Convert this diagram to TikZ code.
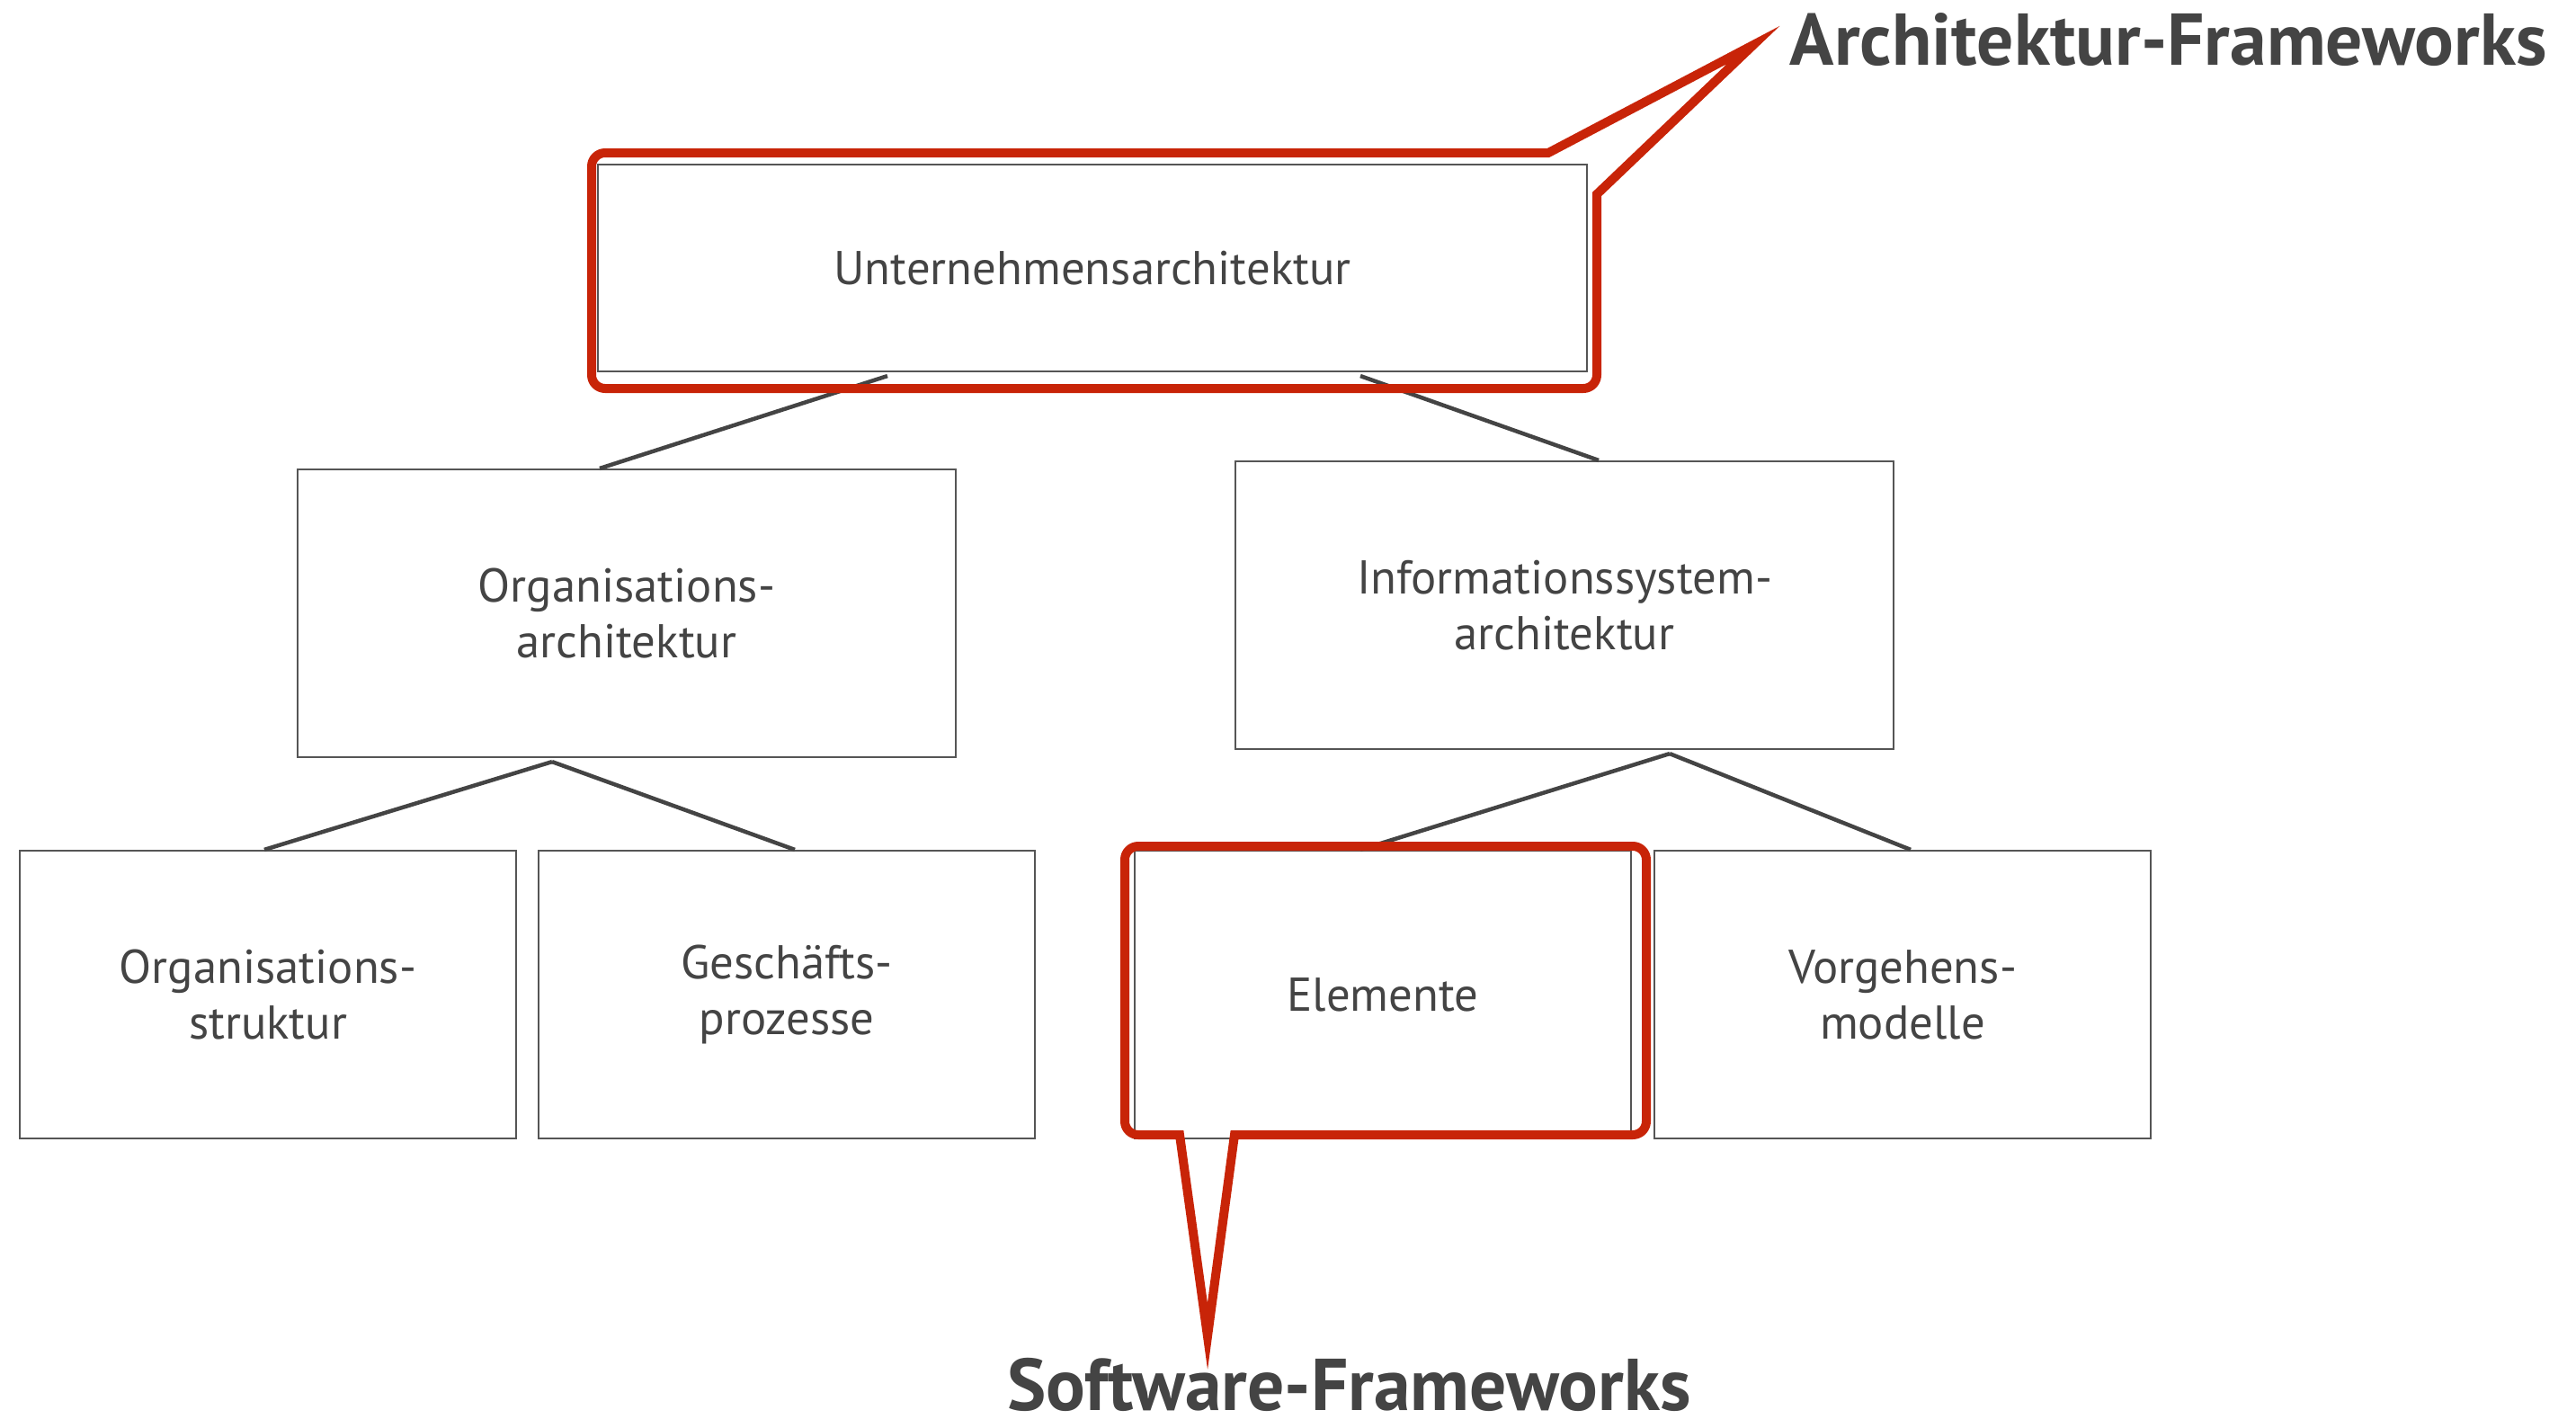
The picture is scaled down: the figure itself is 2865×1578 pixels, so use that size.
\documentclass[tikz,border=0pt]{standalone}
\usepackage{fontspec}
\setmainfont{PT Sans}
\usetikzlibrary{calc}
\definecolor{txtgray}{RGB}{68,68,68}
\definecolor{boxgray}{RGB}{85,85,85}
\definecolor{callred}{RGB}{200,36,8}
\tikzset{
  box/.style={draw=boxgray,line width=0.02cm,text=txtgray,align=center,inner sep=0pt,font=\fontsize{15}{17.6}\selectfont},
  conn/.style={draw=txtgray,line width=0.045cm},
  callout/.style={draw=callred,line width=0.1cm},
  flabel/.style={text=txtgray,font=\fontsize{23.2}{27}\selectfont\bfseries,inner sep=0pt}
}
\begin{document}
\begin{tikzpicture}[x=0.01cm,y=-0.01cm]
\useasboundingbox (0,0) rectangle (2865,1578);
\node[box,minimum width=11cm,minimum height=2.3cm] (U) at (1215,298) {Unternehmensarchitektur};
\foreach \n/\x/\y/\t in {OA/697/682/{Organisations-\\architektur},IA/1740/673/{Informationssystem-\\architektur}}
  \node[box,minimum width=7.32cm,minimum height=3.2cm] (\n) at (\x,\y) {\t};
\foreach \n/\x/\t in {OS/298/{Organisations-\\struktur},GP/875/{Geschäfts-\\prozesse},EL/1538/{Elemente},VM/2116/{Vorgehens-\\modelle}}
  \node[box,minimum width=5.52cm,minimum height=3.2cm] (\n) at (\x,1106) {\t};
\foreach \a/\dx/\b/\ex in {U/-228/OA/-30,U/298/IA/38,OA/-83/OS/-4,OA/-83/GP/9,IA/117/EL/-25,IA/117/VM/9}
  \draw[conn] ($(\a.south)+(\dx,4)$) -- ($(\b.north)+(\ex,0)$);
\draw[callout] (1722,170) -- (1950,50) -- (1776,216) [rounded corners=0.15cm] -- (1776,432) -- (658,432) -- (658,170) [sharp corners] -- cycle;
\draw[callout] (1373,1262) [rounded corners=0.15cm] -- (1831,1262) -- (1831,941) -- (1251,941) -- (1251,1262) [sharp corners] -- (1312,1262) -- (1343,1486) -- cycle;
\node[flabel,anchor=base west] (AF) at (1990,72) {Architektur-Frameworks};
\node[flabel,anchor=base west] (SF) at (1120,1568) {Software-Frameworks};
\end{tikzpicture}
\end{document}
